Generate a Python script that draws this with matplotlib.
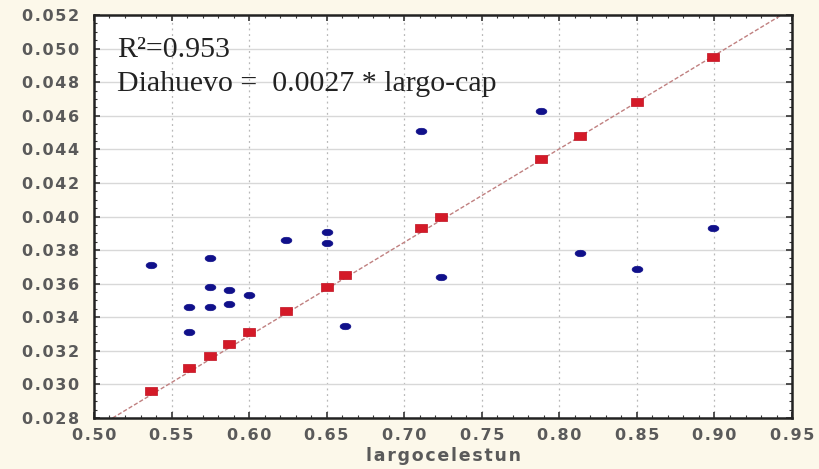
import numpy as np
import matplotlib
matplotlib.use("Agg")
import matplotlib.pyplot as plt
from matplotlib.ticker import MultipleLocator, FuncFormatter

# observed values (blue) and fitted values (red)
obs_x = [0.537, 0.575, 0.561, 0.561, 0.575, 0.575, 0.587, 0.587, 0.600,
         0.624, 0.650, 0.650, 0.662, 0.711, 0.724, 0.788, 0.813, 0.850, 0.899]
obs_y = [0.0371, 0.0375, 0.0346, 0.0331, 0.0358, 0.0346, 0.0356, 0.0348, 0.0353,
         0.0386, 0.0391, 0.0384, 0.0335, 0.0451, 0.0364, 0.0463, 0.0378, 0.0369, 0.0393]

fit_x = [0.537, 0.561, 0.575, 0.587, 0.600, 0.624, 0.650, 0.662,
         0.711, 0.724, 0.788, 0.813, 0.850, 0.899]
fit_y = [0.0296, 0.0310, 0.0317, 0.0324, 0.0331, 0.0344, 0.0358, 0.0365,
         0.0393, 0.0400, 0.0434, 0.0448, 0.0468, 0.0495]

# regression line end points
line_x = [0.512, 0.945]
line_y = [0.0280, 0.0521]

# slightly letter-spaced labels like the original
gap = "\u200a"
def spaced(s, g=gap):
    return g.join(s)

# flattened marker shapes
t = np.linspace(0, 2 * np.pi, 40)
ellipse = list(zip(np.cos(t), 0.6 * np.sin(t)))
rect = [(-1, -0.65), (1, -0.65), (1, 0.65), (-1, 0.65), (-1, -0.65)]

bg = "#fcf8ea"
fig = plt.figure(figsize=(8.2, 4.69), dpi=100, facecolor=bg)
ax = fig.add_axes([0.1146, 0.1087, 0.8513, 0.8593])
ax.set_facecolor("white")

ax.set_xlim(0.50, 0.95)
ax.set_ylim(0.028, 0.052)
ax.xaxis.set_major_locator(MultipleLocator(0.05))
ax.yaxis.set_major_locator(MultipleLocator(0.002))
ax.xaxis.set_minor_locator(MultipleLocator(0.01))
ax.yaxis.set_minor_locator(MultipleLocator(0.0005))
ax.xaxis.set_major_formatter(FuncFormatter(lambda v, p: spaced("%.2f" % v)))
ax.yaxis.set_major_formatter(FuncFormatter(lambda v, p: spaced("%.3f" % v)))

ax.grid(True, axis="y", which="major", color="#d8d8d8", lw=1.0, ls="-")
ax.grid(True, axis="x", which="major", color="#b8b8b8", lw=0.9, ls=(0, (1.5, 3)))
ax.set_axisbelow(True)

ax.tick_params(which="both", direction="in", color="#333333",
               top=True, right=True)
ax.tick_params(which="major", length=4, width=1.2, labelsize=11.5,
               labelcolor="#5a5a5a")
ax.tick_params(axis="y", which="major", pad=11)
ax.tick_params(axis="x", which="major", pad=7)
ax.tick_params(which="minor", length=2.5, width=0.8)
for lab in ax.get_xticklabels() + ax.get_yticklabels():
    lab.set_fontweight("bold")
for s in ax.spines.values():
    s.set_linewidth(1.8)
    s.set_color("#222222")

ax.plot(line_x, line_y, color="#c08080", lw=1.0, ls=(0, (3, 1.5)), zorder=2)
ax.scatter(obs_x, obs_y, marker=ellipse, s=60, color="#10108a",
           edgecolors="#10108a", linewidths=0.5, zorder=3)
ax.scatter(fit_x, fit_y, marker=rect, s=70, color="#d41a28",
           edgecolors="#c01020", linewidths=0.5, zorder=4)

ax.set_xlabel(spaced("largocelestun"), fontsize=12.5, fontweight="bold",
              color="#5a5a5a", labelpad=3)

ax.text(0.033, 0.945, "R²=0.953", transform=ax.transAxes,
        family="Liberation Serif", fontsize=21.5, color="#222222", va="top")
ax.text(0.033, 0.86, "Diahuevo =  0.0027 * largo-cap", transform=ax.transAxes,
        family="Liberation Serif", fontsize=21.5, color="#222222", va="top")

fig.savefig("out.png", dpi=100, facecolor=bg)
